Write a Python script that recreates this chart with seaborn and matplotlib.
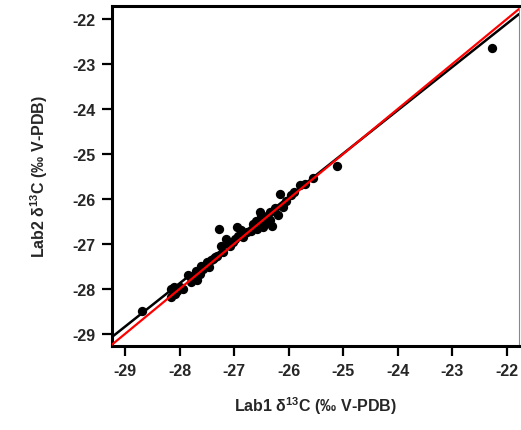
import numpy as np
import pandas as pd
import matplotlib
matplotlib.use("Agg")
import matplotlib.pyplot as plt
import seaborn as sns

# Data
lab1 = [-25.12, -25.55, -25.80, -25.70, -26.16, -26.10, -26.34, -26.34, -26.53, -26.53,
        -26.47, -26.66, -26.59, -26.77, -26.83, -26.95, -26.93, -26.99, -27.27, -27.15,
        -27.08, -27.20, -27.32, -27.38, -27.50, -27.47, -27.57, -27.63, -27.69, -27.75,
        -27.93, -27.99, -28.15, -28.15, -28.08, -28.69, -26.40, -26.45, -26.25, -26.20,
        -26.60, -26.70, -26.88, -27.02, -27.10, -27.42, -27.60, -27.80, -27.85, -28.05,
        -28.10, -27.70, -26.30, -26.50, -25.95, -25.90, -27.25, -22.28, -26.05, -27.35]
lab2 = [-25.26, -25.54, -25.70, -25.67, -25.89, -26.18, -26.48, -26.29, -26.29, -26.48,
        -26.62, -26.56, -26.67, -26.74, -26.85, -26.63, -26.82, -26.89, -26.67, -26.89,
        -27.04, -27.18, -27.26, -27.33, -27.41, -27.52, -27.56, -27.67, -27.81, -27.74,
        -28.00, -27.96, -28.00, -28.18, -28.11, -28.50, -26.38, -26.55, -26.20, -26.35,
        -26.50, -26.72, -26.70, -26.95, -27.00, -27.35, -27.50, -27.85, -27.70, -28.05,
        -27.95, -27.60, -26.60, -26.35, -25.92, -25.85, -27.05, -22.65, -26.05, -27.30]
fit_slope = 0.962
fit_intercept = -0.941
x_ticks = [-29, -28, -27, -26, -25, -24, -23, -22]
y_ticks = [-29, -28, -27, -26, -25, -24, -23, -22]
x_limits = (-29.24, -21.78)
y_limits = (-29.27, -21.71)

sns.set_style("ticks")
plt.rcParams['font.family'] = ['Liberation Sans', 'DejaVu Sans']
plt.rcParams['font.weight'] = 'bold'
plt.rcParams['axes.unicode_minus'] = False
plt.rcParams['mathtext.fontset'] = 'custom'
plt.rcParams['mathtext.rm'] = 'Liberation Sans:bold'
plt.rcParams['mathtext.default'] = 'rm'

df = pd.DataFrame({"lab1": lab1, "lab2": lab2})

fig = plt.figure(figsize=(5.21, 4.31), dpi=100)
ax = fig.add_axes([0.215, 0.195, 0.781, 0.789])

sns.scatterplot(data=df, x="lab1", y="lab2", ax=ax, color="black", s=45,
                edgecolor="black", linewidth=0, zorder=2)
ax.axline((0, fit_intercept), slope=fit_slope, color="black", lw=1.8, zorder=3)
ax.axline((0, 0), slope=1, color="red", lw=1.6, zorder=4)

ax.set_xlim(*x_limits)
ax.set_ylim(*y_limits)
ax.set_xticks(x_ticks)
ax.set_yticks(y_ticks)
ax.tick_params(axis='both', direction='out', length=7, width=1.6, labelsize=11.5,
               color='black', pad=5)
for lbl in ax.get_xticklabels() + ax.get_yticklabels():
    lbl.set_fontweight('bold')

for side in ['left', 'bottom', 'top']:
    ax.spines[side].set_linewidth(2.2)
    ax.spines[side].set_color('black')
ax.spines['right'].set_linewidth(0.8)
ax.spines['right'].set_color('#888888')
ax.spines['right'].set_visible(True)
ax.spines['top'].set_visible(True)

ax.set_xlabel("Lab1 δ$^{13}$C (‰ V-PDB)", fontsize=11.5, fontweight='bold', labelpad=12)
ax.set_ylabel("Lab2 δ$^{13}$C (‰ V-PDB)", fontsize=11.5, fontweight='bold', labelpad=16)

fig.savefig("out.png", dpi=100)
